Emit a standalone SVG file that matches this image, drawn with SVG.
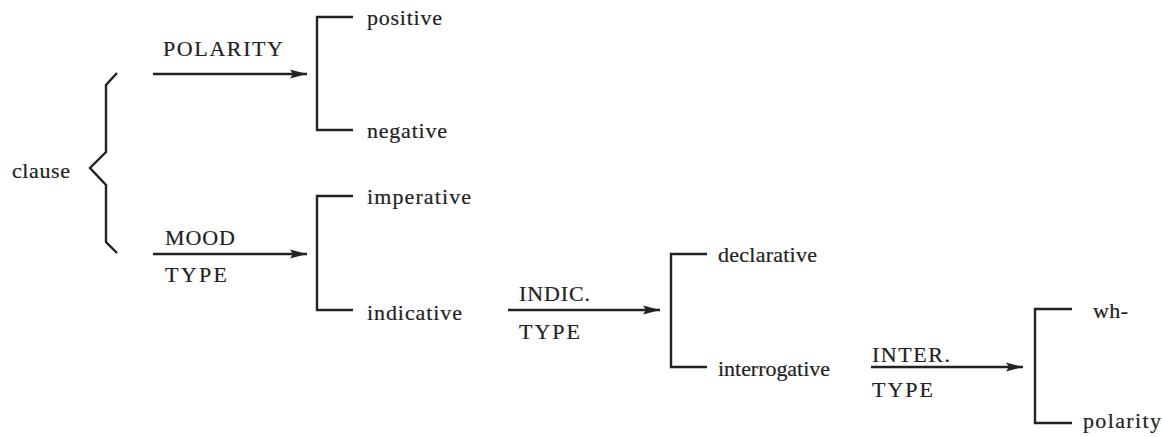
<svg xmlns="http://www.w3.org/2000/svg" width="1162" height="437" viewBox="0 0 1162 437">
  <style>
    text { font-family: "Liberation Serif", "DejaVu Serif", serif; font-size: 22px; fill: #222; stroke: #222; stroke-width: 0.2; }
    .ln { fill: none; stroke: #222; stroke-width: 2.4; }
  </style>
  <defs>
    <marker id="arrow" viewBox="0 0 17 10" refX="17" refY="5" markerWidth="17" markerHeight="10" markerUnits="userSpaceOnUse" orient="auto">
      <path d="M0,0.5 L17,5 L0,9.5 L3,5 Z" fill="#222"/>
    </marker>
  </defs>
  <rect width="1162" height="437" fill="#fff"/>

  <!-- entry condition with its brace -->
  <g id="clause">
    <text x="12" y="178" textLength="58" lengthAdjust="spacing">clause</text>
    <path class="ln" d="M117,73 L106,85 L106,152 L90,168 L106,185 L106,242 L117,253"/>
  </g>

  <g id="polarity-system">
    <path class="ln" d="M353,17 L317,17 L317,130 L353,130"/>
    <text x="367" y="25" textLength="75" lengthAdjust="spacing">positive</text>
    <text x="367" y="138" textLength="80" lengthAdjust="spacing">negative</text>
  </g>

  <g id="mood-system">
    <path class="ln" d="M353,196 L317,196 L317,310 L353,310"/>
    <text x="367" y="204" textLength="104" lengthAdjust="spacing">imperative</text>
    <text x="367" y="320" textLength="95" lengthAdjust="spacing">indicative</text>
  </g>

  <g id="indicative-system">
    <path class="ln" d="M707,254 L671,254 L671,367 L707,367"/>
    <text x="718" y="262" textLength="99" lengthAdjust="spacing">declarative</text>
    <text x="718" y="376" textLength="112" lengthAdjust="spacing">interrogative</text>
  </g>

  <g id="interrogative-system">
    <path class="ln" d="M1072,309 L1035,309 L1035,423 L1072,423"/>
    <text x="1093" y="318" textLength="35" lengthAdjust="spacing">wh-</text>
    <text x="1083" y="428" textLength="78" lengthAdjust="spacing">polarity</text>
  </g>

  <!-- system arrows with their names -->
  <g id="connectors">
    <line class="ln" x1="153" y1="74" x2="307" y2="74" marker-end="url(#arrow)"/>
    <text x="163" y="56" textLength="120" lengthAdjust="spacing">POLARITY</text>

    <line class="ln" x1="153" y1="254" x2="307" y2="254" marker-end="url(#arrow)"/>
    <text x="165" y="245" textLength="70" lengthAdjust="spacing">MOOD</text>
    <text x="165" y="282" textLength="62" lengthAdjust="spacing">TYPE</text>

    <line class="ln" x1="508" y1="310" x2="660" y2="310" marker-end="url(#arrow)"/>
    <text x="519" y="301" textLength="71" lengthAdjust="spacing">INDIC.</text>
    <text x="519" y="339" textLength="61" lengthAdjust="spacing">TYPE</text>

    <line class="ln" x1="871" y1="367" x2="1023" y2="367" marker-end="url(#arrow)"/>
    <text x="872" y="362" textLength="78" lengthAdjust="spacing">INTER.</text>
    <text x="872" y="397" textLength="61" lengthAdjust="spacing">TYPE</text>
  </g>
</svg>
